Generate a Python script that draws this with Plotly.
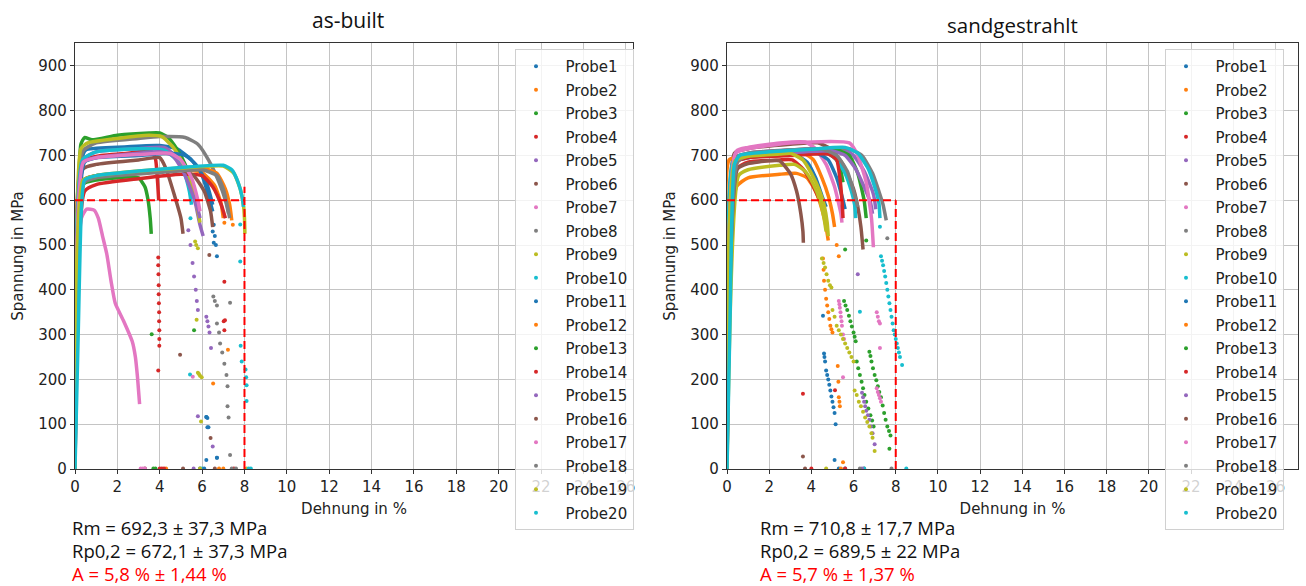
import plotly.graph_objects as go

probe_names = [f"Probe{i}" for i in range(1, 21)]
tab10 = ['#1f77b4', '#ff7f0e', '#2ca02c', '#d62728', '#9467bd',
         '#8c564b', '#e377c2', '#7f7f7f', '#bcbd22', '#17becf']
probe_colors = [tab10[i % 10] for i in range(20)]

x_ticks = list(range(0, 28, 2))
y_ticks = list(range(0, 1000, 100))

# ---------------- as-built: main curves (strain %, stress MPa)
asbuilt_strain = [
    [0, 0.32, 0.5, 2, 4, 4.8, 5.5, 6.0, 6.3, 6.5],
    [0, 0.35, 0.6, 3, 5, 6.0, 6.6, 6.9, 7.0],
    [0, 0.28, 0.45, 0.8, 2, 3.5, 4.0, 4.4, 4.8, 5.2, 5.5, 5.7],
    [0, 0.32, 1, 2.5, 3.6, 3.8, 3.9, 3.95],
    [0, 0.38, 1, 3, 4.2, 4.6, 5.0, 5.4, 5.7, 5.9, 6.05],
    [0, 0.38, 1, 3, 4.0, 4.3, 4.7, 5.0, 5.1],
    [0, 0.3, 0.55, 0.9, 1.1, 1.3, 1.5, 1.7, 1.9, 2.3, 2.7, 2.85, 2.95, 3.0, 3.05],
    [0, 0.38, 1, 3, 4, 5.2, 5.8, 6.3, 6.8, 7.1, 7.25],
    [0, 0.28, 0.6, 2, 3.5, 4.1, 4.6, 5.0, 5.4, 5.7, 5.9],
    [0, 0.35, 1, 3, 4.2, 4.8, 5.2, 5.4, 5.5],
    [0, 0.45, 1, 3, 4.5, 5.2, 5.7, 6.2, 6.5],
    [0, 0.45, 1, 4, 6, 6.7, 7.1, 7.3, 7.4],
    [0, 0.35, 1, 2.5, 3.0, 3.3, 3.45, 3.55, 3.6],
    [0, 0.45, 1, 3, 5, 6, 6.5, 6.9, 7.1],
    [0, 0.38, 1, 3, 4, 4.6, 5.1, 5.5, 5.8, 5.9],
    [0, 0.4, 1, 4, 5, 5.6, 6.1, 6.4, 6.5],
    [0, 0.4, 1, 3, 4.5, 5, 5.5, 5.8, 5.9],
    [0, 0.45, 1, 4, 6, 6.7, 7.0, 7.2, 7.3],
    [0, 0.38, 1, 3, 5, 7, 7.5, 7.8, 7.95, 8.0, 8.02],
    [0, 0.15, 0.3, 0.45, 1, 3, 5, 7, 7.4, 7.7, 7.9, 7.95],
]
asbuilt_stress = [
    [0, 690, 712, 718, 722, 715, 690, 655, 610, 575],
    [0, 630, 650, 662, 668, 662, 632, 592, 560],
    [0, 725, 740, 735, 745, 750, 750, 740, 715, 680, 640, 600],
    [0, 685, 698, 705, 710, 692, 640, 600],
    [0, 690, 708, 715, 718, 705, 680, 640, 590, 545, 520],
    [0, 670, 680, 690, 695, 670, 610, 560, 525],
    [0, 560, 580, 578, 560, 520, 480, 420, 370, 330, 285, 250, 205, 175, 145],
    [0, 710, 728, 738, 742, 740, 725, 690, 640, 600, 570],
    [0, 715, 728, 738, 745, 742, 720, 690, 645, 600, 550],
    [0, 690, 708, 715, 712, 690, 655, 620, 590],
    [0, 685, 695, 700, 705, 700, 680, 640, 590],
    [0, 645, 655, 665, 672, 660, 625, 590, 555],
    [0, 635, 645, 652, 650, 630, 600, 560, 525],
    [0, 620, 635, 648, 658, 655, 630, 590, 560],
    [0, 685, 695, 705, 708, 700, 665, 620, 580, 560],
    [0, 645, 655, 665, 668, 655, 620, 575, 540],
    [0, 685, 695, 702, 705, 690, 650, 600, 575],
    [0, 640, 650, 662, 668, 655, 625, 585, 560],
    [0, 645, 655, 665, 672, 676, 660, 625, 590, 560, 525],
    [0, 300, 580, 645, 655, 665, 673, 678, 668, 640, 605, 585],
]
# as-built: scattered points after necking / fracture
asbuilt_tail_strain = [
    [6.55, 6.6, 6.65, 6.7, 6.2, 6.25, 6.3, 6.7, 6.2, 5.9],
    [7.05, 7.22, 6.52, 4.3, 6.8],
    [5.62, 3.8],
    [3.93, 3.93, 3.94, 3.95, 3.95, 3.96, 3.97, 3.97, 3.98, 3.98, 3.98, 3.93, 4.1, 4.2],
    [5.35, 5.45, 5.55, 5.62, 5.7, 5.75, 5.8, 6.2, 6.25, 6.3, 6.35, 6.42, 5.8, 6.5],
    [4.96, 6.4, 3.3, 5.1],
    [3.1, 3.3],
    [6.53, 6.6, 6.7, 6.8, 6.85, 6.95, 7.05, 7.15, 7.2, 7.2, 7.25, 7.32, 7.32, 6.7],
    [5.67, 5.72, 5.8, 5.74, 5.8, 5.85, 5.9, 5.98, 5.95],
    [5.45, 5.43, 6.0],
    [6.5, 6.55, 6.2, 6.25, 6.7, 6.1],
    [7.45, 7.0],
    [3.62, 3.7],
    [7.05, 7.02, 7.08, 7.05, 7.5, 4.0],
    [5.6],
    [6.34, 6.6],
    [5.56, 3.2],
    [7.4, 7.6],
    [5.9, 8.1],
    [7.8, 7.8, 7.82, 7.87, 8.05, 8.08, 8.1, 8.1, 8.2, 8.3],
]
asbuilt_tail_stress = [
    [545, 520, 500, 475, 116, 114, 93, 25, 20, 1],
    [550, 266, 191, 1, 1],
    [310, 1],
    [472, 455, 435, 410, 390, 370, 350, 330, 310, 290, 275, 220, 1, 1],
    [533, 500, 460, 430, 400, 375, 355, 340, 330, 318, 305, 270, 118, 50],
    [255, 69, 1, 1],
    [1, 1],
    [385, 375, 365, 305, 280, 260, 235, 210, 185, 140, 115, 371, 31, 325],
    [508, 500, 493, 333, 215, 212, 208, 205, 106],
    [560, 211, 1],
    [530, 505, 116, 93, 25, 1],
    [545, 1],
    [301, 1],
    [418, 330, 332, 310, 1, 1],
    [1],
    [478, 1],
    [206, 1],
    [1, 1],
    [1, 1],
    [546, 463, 275, 240, 222, 205, 187, 152, 1, 1],
]

# ---------------- sandgestrahlt: main curves
sand_strain = [
    [0, 0.35, 1, 2.5, 3.3, 3.8, 4.2, 4.5, 4.7],
    [0, 0.45, 1, 2.5, 3.3, 3.8, 4.2, 4.5, 4.7, 4.8],
    [0, 0.35, 1, 3, 4.8, 5.2, 5.4, 5.5],
    [0, 0.45, 1, 2.5, 3.1, 3.6, 4.0, 4.3, 4.45],
    [0, 0.38, 1, 3, 5.5, 6.0, 6.5, 6.9, 7.0, 7.05],
    [0, 0.35, 1, 3, 4.3, 4.9, 5.5, 6.0, 6.2, 6.35, 6.45],
    [0, 0.45, 1, 2.5, 3.7, 4.2, 4.7, 5.1, 5.4, 5.45],
    [0, 0.4, 1, 3, 5.8, 6.4, 6.9, 7.2, 7.4, 7.55],
    [0, 0.55, 1, 2.5, 3.2, 3.7, 4.1, 4.4, 4.6, 4.7],
    [0, 0.3, 1, 3, 4.6, 5.1, 5.6, 5.9, 6.05, 6.1],
    [0, 0.4, 1, 3, 4.3, 4.8, 5.2, 5.5, 5.6],
    [0, 0.1, 0.5, 2.5, 3.7, 4.1, 4.5, 4.8, 5.0, 5.1],
    [0, 0.4, 1, 3, 5.2, 5.8, 6.2, 6.5, 6.6],
    [0, 0.4, 1, 3, 4.8, 5.2, 5.35, 5.45, 5.5],
    [0, 0.4, 1, 3, 5.0, 5.6, 6.1, 6.5, 6.8, 6.9],
    [0, 0.5, 1, 2, 2.5, 3.0, 3.3, 3.5, 3.6, 3.62],
    [0, 0.4, 1, 3, 5.8, 6.2, 6.6, 6.85, 6.94],
    [0, 0.5, 1, 3, 4.5, 5.2, 5.7, 6.0, 6.2],
    [0, 0.38, 1, 2.5, 3.0, 3.6, 4.0, 4.4, 4.6, 4.75, 4.8],
    [0, 0.15, 0.35, 0.6, 2, 4, 5.6, 6.2, 6.7, 7.0, 7.2, 7.25],
]
sand_stress = [
    [0, 685, 695, 700, 700, 685, 650, 610, 585],
    [0, 630, 650, 658, 660, 650, 620, 580, 540, 510],
    [0, 690, 700, 705, 705, 690, 665, 640],
    [0, 670, 685, 690, 690, 670, 640, 610, 595],
    [0, 695, 705, 712, 715, 700, 665, 620, 600, 580],
    [0, 705, 715, 725, 728, 715, 680, 625, 585, 540, 490],
    [0, 710, 718, 728, 730, 715, 680, 630, 570, 550],
    [0, 695, 705, 712, 715, 700, 660, 620, 590, 555],
    [0, 655, 668, 678, 680, 665, 635, 600, 560, 530],
    [0, 688, 698, 705, 708, 695, 660, 620, 590, 560],
    [0, 688, 697, 703, 705, 690, 650, 600, 580],
    [0, 690, 695, 700, 703, 690, 650, 610, 570, 540],
    [0, 690, 700, 708, 712, 700, 660, 600, 560],
    [0, 685, 695, 700, 703, 690, 650, 600, 560],
    [0, 690, 700, 706, 710, 700, 670, 630, 595, 570],
    [0, 670, 682, 688, 688, 660, 620, 570, 530, 505],
    [0, 705, 715, 728, 728, 700, 640, 560, 495],
    [0, 685, 700, 712, 714, 700, 665, 620, 585],
    [0, 688, 698, 703, 705, 690, 660, 620, 590, 550, 520],
    [0, 350, 680, 700, 708, 714, 718, 705, 670, 630, 595, 560],
]
sand_tail_strain = [
    [4.55, 4.6, 4.62, 4.65, 4.7, 4.75, 4.8, 4.85, 4.9, 4.95, 5.0, 5.05, 5.1, 5.15, 5.1, 5.3],
    [4.55, 4.58, 4.6, 4.65, 4.7, 4.75, 4.8, 4.85, 4.9, 4.95, 5.0, 5.25, 5.28, 5.3, 5.33, 5.35, 5.5],
    [5.55, 5.62, 5.7, 5.78, 5.85, 5.92, 6.0, 6.05, 6.1, 6.15, 6.22, 6.3, 6.38, 6.45, 6.52, 6.6, 6.7, 6.8, 6.88, 6.95, 5.6],
    [3.6, 4.0],
    [6.2, 6.4, 6.45, 6.5, 6.55, 6.6, 6.68, 6.75, 6.82, 6.9, 7.0],
    [6.5],
    [5.3, 5.33, 5.35, 5.38, 5.4, 5.43, 5.45, 5.5, 5.55, 5.5],
    [7.6, 7.8],
    [4.5, 4.58, 4.65, 4.72, 4.8, 4.88, 4.95, 5.0, 5.1, 5.2, 5.3, 5.4, 5.5, 5.6, 5.7, 5.8, 5.9, 6.0,
     6.05, 6.15, 6.25, 6.35, 6.45, 6.55, 6.65, 6.75, 6.85, 6.9, 7.0],
    [6.3, 6.5],
    [5.6],
    [5.2, 5.3, 5.4],
    [6.75, 6.8, 6.85, 6.92, 7.0, 7.08, 7.15, 7.22, 7.3, 7.38, 7.45, 7.52, 7.6, 7.68, 7.75, 7.7, 6.6],
    [5.12, 5.6],
    [6.4],
    [3.6, 3.7],
    [7.1, 7.15, 7.2, 7.25, 7.25, 7.1, 7.15, 7.2, 7.25, 7.3],
    [6.3],
    [4.7],
    [7.25, 7.3, 7.35, 7.4, 7.45, 7.5, 7.55, 7.6, 7.65, 7.7, 7.75, 7.8, 7.85, 7.9, 7.95, 8.0, 8.05,
     8.1, 8.15, 8.2, 8.3, 8.5],
]
sand_tail_stress = [
    [342, 258, 250, 240, 220, 210, 200, 188, 175, 162, 150, 138, 125, 100, 20, 1],
    [470, 445, 420, 400, 380, 365, 350, 335, 320, 312, 305, 230, 195, 160, 150, 140, 15],
    [375, 365, 355, 342, 330, 318, 305, 295, 285, 240, 225, 210, 195, 180, 165, 150, 135, 120, 108, 95, 490],
    [168, 1],
    [435, 170, 160, 150, 140, 130, 120, 110, 95, 80, 55],
    [1],
    [375, 368, 360, 350, 340, 330, 320, 300, 290, 205],
    [515, 1],
    [470, 460, 450, 435, 420, 410, 405, 355, 340, 320, 310, 300, 290, 280, 270, 260, 250, 240,
     175, 165, 150, 140, 128, 115, 105, 95, 80, 70, 40],
    [351, 1],
    [1],
    [500, 475, 1],
    [262, 252, 240, 225, 210, 198, 185, 172, 160, 142, 125, 110, 95, 85, 75, 45, 510],
    [176, 1],
    [1],
    [28, 1],
    [350, 340, 330, 325, 270, 180, 172, 165, 158, 150],
    [1],
    [1],
    [541, 475, 465, 455, 442, 430, 415, 400, 385, 370, 355, 340, 325, 310, 300, 290, 280, 270,
     260, 250, 232, 1],
]

# limit lines (red dashed)
limit_stress = 600
limit_strain = 8
asbuilt_limit_top = 630
sand_limit_top = 600

titles = ["as-built", "sandgestrahlt"]
stats_asbuilt = ["Rm = 692,3 ± 37,3 MPa", "Rp0,2 = 672,1 ± 37,3 MPa", "A = 5,8 % ± 1,44 %"]
stats_sand = ["Rm = 710,8 ± 17,7 MPa", "Rp0,2 = 689,5 ± 22 MPa", "A = 5,7 % ± 1,37 %"]

W, H = 1306, 586
fig = go.Figure()

panels = [
    ("x", "y", "legend", asbuilt_strain, asbuilt_stress, asbuilt_tail_strain, asbuilt_tail_stress, asbuilt_limit_top),
    ("x2", "y2", "legend2", sand_strain, sand_stress, sand_tail_strain, sand_tail_stress, sand_limit_top),
]
for xa, ya, leg, ms, mv, ts, tv, ltop in panels:
    for i in range(20):
        c = probe_colors[i]
        fig.add_trace(go.Scatter(
            x=ms[i], y=mv[i], mode="lines", xaxis=xa, yaxis=ya,
            line=dict(color=c, width=3.5, shape="spline", smoothing=0.5),
            showlegend=False, legendgroup=f"{leg}{i}", hoverinfo="skip"))
        fig.add_trace(go.Scatter(
            x=ts[i], y=tv[i], mode="markers", xaxis=xa, yaxis=ya,
            marker=dict(color=c, size=4), name="\u00a0\u00a0" + probe_names[i],
            legend=leg, legendgroup=f"{leg}{i}", showlegend=True))
    fig.add_trace(go.Scatter(x=[0, limit_strain], y=[limit_stress, limit_stress], mode="lines",
                             xaxis=xa, yaxis=ya, showlegend=False,
                             line=dict(color="#ff0000", width=2, dash="8px,4px")))
    fig.add_trace(go.Scatter(x=[limit_strain, limit_strain], y=[0, ltop], mode="lines",
                             xaxis=xa, yaxis=ya, showlegend=False,
                             line=dict(color="#ff0000", width=2, dash="8px,4px")))

y0 = 1 - 469 / H
y1 = 1 - 43 / H
axis_common = dict(
    showline=True, mirror=True, linecolor="#333333", linewidth=1.2,
    showgrid=True, gridcolor="#c4c4c4", gridwidth=1,
    ticks="outside", ticklen=4, tickcolor="#333333",
    tickfont=dict(family="DejaVu Sans", size=15, color="#222222"),
    zeroline=False, automargin=False,
)
title_font = dict(family="DejaVu Sans", size=15, color="#222")
legend_common = dict(
    xanchor="left", yanchor="top", y=1 - 49 / H,
    bgcolor="rgba(255,255,255,0.8)", bordercolor="#d0d0d0", borderwidth=1,
    font=dict(family="DejaVu Sans", size=15, color="#222"), tracegroupgap=1,
    itemsizing="trace", itemwidth=30,
)
fig.update_layout(
    width=W, height=H, margin=dict(l=0, r=0, t=0, b=0, autoexpand=False),
    paper_bgcolor="white", plot_bgcolor="white",
    xaxis=dict(domain=[75 / W, 633 / W], range=[0, 26.34], tickvals=x_ticks, anchor="y",
               title=dict(text="Dehnung in %", font=title_font, standoff=8), **axis_common),
    yaxis=dict(domain=[y0, y1], range=[0, 951], tickvals=y_ticks, anchor="x",
               title=dict(text="Spannung in MPa", font=title_font, standoff=11), **axis_common),
    xaxis2=dict(domain=[727 / W, 1298 / W], range=[0, 27.07], tickvals=x_ticks, anchor="y2",
                title=dict(text="Dehnung in %", font=title_font, standoff=8), **axis_common),
    yaxis2=dict(domain=[y0, y1], range=[0, 951], tickvals=y_ticks, anchor="x2",
                title=dict(text="Spannung in MPa", font=title_font, standoff=11), **axis_common),
    legend=dict(x=515 / W, **legend_common),
    legend2=dict(x=1165 / W, **legend_common),
)

ann = []
ann.append(dict(text=titles[0], x=348 / W, y=1 - 20 / H, xref="paper", yref="paper",
                xanchor="center", yanchor="middle",
                showarrow=False, font=dict(family="Open Sans", size=21, color="#111")))
ann.append(dict(text=titles[1], x=1012 / W, y=1 - 25 / H, xref="paper", yref="paper",
                xanchor="center", yanchor="middle",
                showarrow=False, font=dict(family="Open Sans", size=20.5, color="#111")))
for k, (txt_a, txt_s) in enumerate(zip(stats_asbuilt, stats_sand)):
    col = "#ff0000" if k == 2 else "#111111"
    yy = 1 - (527 + 23 * k) / H
    ann.append(dict(text=txt_a, x=70 / W, y=yy, xref="paper", yref="paper", xanchor="left",
                    yanchor="middle", showarrow=False, font=dict(family="Open Sans", size=18.5, color=col)))
    ann.append(dict(text=txt_s, x=758 / W, y=yy, xref="paper", yref="paper", xanchor="left",
                    yanchor="middle", showarrow=False, font=dict(family="Open Sans", size=18.5, color=col)))
fig.update_layout(annotations=ann)

fig.write_html("out.html")
